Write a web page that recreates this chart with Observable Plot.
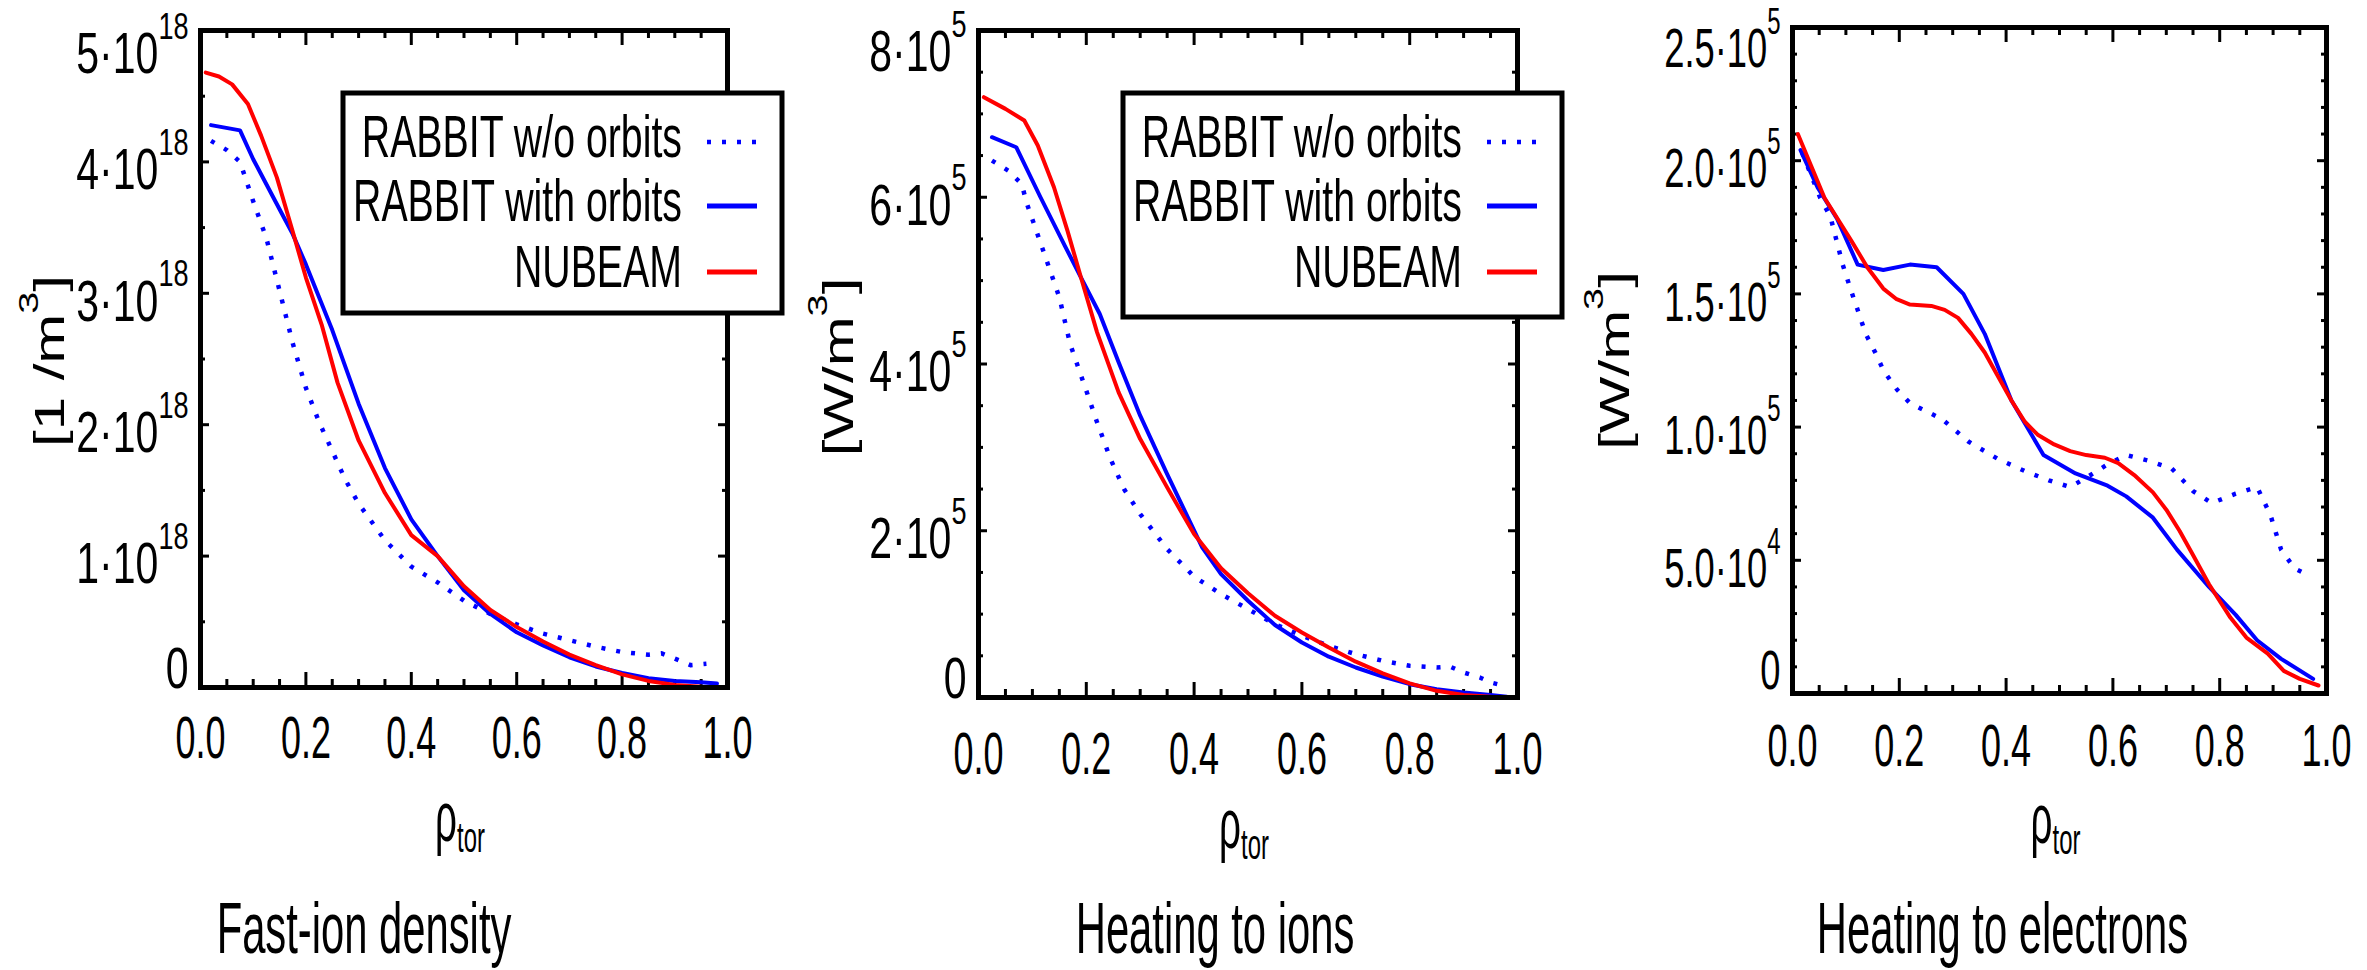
<!DOCTYPE html>
<html><head><meta charset="utf-8">
<script src="https://cdn.jsdelivr.net/npm/d3@7"></script>
<script src="https://cdn.jsdelivr.net/npm/@observablehq/plot@0.6"></script>
<style>
html,body{margin:0;padding:0;background:#fff;}
#fig{position:relative;width:2367px;height:970px;overflow:hidden;background:#fff;}
#fig > svg{position:absolute;top:0;}
</style></head><body><div id="fig"></div>
<script>
const FONT = "'Liberation Sans', Arial, Helvetica, sans-serif";

// ---------- shared axis data ----------
const xTicks = [0, 0.2, 0.4, 0.6, 0.8, 1.0];
const xTickLabels = ["0.0", "0.2", "0.4", "0.6", "0.8", "1.0"];
const xTitle = "ρ_{tor}";
const seriesNames = ["RABBIT w/o orbits", "RABBIT with orbits", "NUBEAM"];
const seriesColors = ["#0000ff", "#0000ff", "#ff0000"];
const seriesDash = ["4,11", null, null];

// ---------- Panel 1: fast-ion density (units of 1e18 m^-3) ----------
const p1Title = "Fast-ion density";
const p1YTitle = "[1 /m^{3}]";
const p1YTicks = [0, 1, 2, 3, 4, 5];
const p1YTickLabels = ["0", "1·10^{18}", "2·10^{18}", "3·10^{18}", "4·10^{18}", "5·10^{18}"];
const p1RhoNoOrb = [0.02,0.05,0.075,0.1,0.125,0.15,0.175,0.2,0.225,0.25,0.275,0.3,0.35,0.4,0.45,0.5,0.55,0.6,0.65,0.7,0.75,0.8,0.85,0.875,0.9,0.93,0.96];
const p1NoOrb    = [4.16,4.09,4.0,3.7,3.42,3.02,2.62,2.28,2.02,1.80,1.58,1.40,1.12,0.92,0.80,0.66,0.56,0.48,0.41,0.36,0.31,0.27,0.25,0.26,0.22,0.17,0.18];
const p1RhoOrb   = [0.02,0.075,0.1,0.125,0.15,0.175,0.2,0.225,0.25,0.3,0.35,0.4,0.45,0.5,0.55,0.6,0.65,0.7,0.75,0.8,0.85,0.9,0.95,0.98];
const p1Orb      = [4.28,4.24,4.02,3.83,3.64,3.45,3.22,2.97,2.72,2.16,1.67,1.28,1.0,0.74,0.56,0.42,0.32,0.23,0.16,0.11,0.07,0.05,0.04,0.03];
const p1RhoNb    = [0.01,0.035,0.06,0.09,0.115,0.145,0.175,0.2,0.23,0.26,0.3,0.35,0.4,0.45,0.5,0.55,0.6,0.65,0.7,0.75,0.8,0.85,0.9,0.95,0.99];
const p1Nb       = [4.68,4.65,4.59,4.44,4.20,3.88,3.47,3.12,2.76,2.32,1.88,1.48,1.16,1.0,0.77,0.59,0.46,0.35,0.25,0.17,0.10,0.05,0.02,0.005,0.0];

// ---------- Panel 2: heating to ions (units of 1e5 W/m^3) ----------
const p2Title = "Heating to ions";
const p2YTitle = "[W/m^{3}]";
const p2YTicks = [0, 2, 4, 6, 8];
const p2YTickLabels = ["0", "2·10^{5}", "4·10^{5}", "6·10^{5}", "8·10^{5}"];
const p2RhoNoOrb = [0.025,0.055,0.08,0.09,0.105,0.12,0.135,0.15,0.16,0.17,0.185,0.2,0.22,0.245,0.27,0.3,0.35,0.4,0.45,0.5,0.55,0.6,0.65,0.7,0.75,0.8,0.85,0.875,0.9,0.93,0.95,0.975];
const p2NoOrb    = [6.44,6.32,6.16,5.92,5.64,5.36,5.08,4.8,4.52,4.24,3.96,3.68,3.3,2.86,2.5,2.2,1.78,1.45,1.24,1.06,0.88,0.74,0.62,0.52,0.44,0.38,0.36,0.37,0.3,0.24,0.18,0.14];
const p2RhoOrb   = [0.025,0.07,0.115,0.16,0.19,0.225,0.26,0.3,0.35,0.415,0.45,0.5,0.55,0.6,0.65,0.7,0.75,0.8,0.85,0.9,0.95,0.98];
const p2Orb      = [6.72,6.6,6.0,5.42,5.04,4.6,4.02,3.38,2.68,1.8,1.48,1.16,0.87,0.66,0.49,0.36,0.25,0.16,0.1,0.06,0.03,0.01];
const p2RhoNb    = [0.01,0.05,0.085,0.11,0.14,0.165,0.19,0.22,0.26,0.3,0.35,0.4,0.45,0.5,0.55,0.6,0.65,0.7,0.75,0.8,0.85,0.9,0.95,0.99];
const p2Nb       = [7.2,7.06,6.92,6.62,6.12,5.6,5.04,4.38,3.66,3.1,2.52,1.96,1.55,1.25,0.98,0.78,0.6,0.43,0.29,0.17,0.08,0.03,0.01,0];

// ---------- Panel 3: heating to electrons (units of 1e5 W/m^3) ----------
const p3Title = "Heating to electrons";
const p3YTitle = "[W/m^{3}]";
const p3YTicks = [0, 0.5, 1.0, 1.5, 2.0, 2.5];
const p3YTickLabels = ["0", "5.0·10^{4}", "1.0·10^{5}", "1.5·10^{5}", "2.0·10^{5}", "2.5·10^{5}"];
const p3RhoNoOrb = [0.018,0.052,0.071,0.094,0.11,0.122,0.137,0.155,0.171,0.196,0.22,0.28,0.33,0.385,0.435,0.48,0.52,0.55,0.59,0.625,0.665,0.71,0.75,0.785,0.83,0.87,0.895,0.915,0.94,0.97];
const p3NoOrb    = [2.03,1.86,1.79,1.61,1.51,1.44,1.35,1.28,1.21,1.14,1.09,1.03,0.945,0.88,0.835,0.80,0.775,0.81,0.86,0.895,0.875,0.845,0.76,0.715,0.75,0.775,0.67,0.54,0.47,0.44];
const p3RhoOrb   = [0.015,0.047,0.084,0.122,0.17,0.22,0.27,0.32,0.36,0.41,0.47,0.53,0.59,0.625,0.675,0.72,0.78,0.83,0.87,0.915,0.975];
const p3Orb      = [2.04,1.9,1.78,1.61,1.59,1.61,1.60,1.50,1.35,1.10,0.895,0.826,0.78,0.74,0.66,0.54,0.40,0.295,0.2,0.13,0.055];
const p3RhoNb    = [0.01,0.035,0.06,0.085,0.11,0.14,0.17,0.195,0.22,0.26,0.285,0.31,0.335,0.36,0.385,0.41,0.435,0.46,0.49,0.52,0.55,0.585,0.61,0.64,0.675,0.7,0.725,0.75,0.78,0.82,0.85,0.89,0.92,0.95,0.985];
const p3Nb       = [2.10,1.98,1.86,1.78,1.70,1.60,1.52,1.48,1.46,1.455,1.44,1.41,1.35,1.28,1.19,1.10,1.02,0.97,0.935,0.91,0.895,0.885,0.865,0.82,0.755,0.69,0.61,0.52,0.41,0.285,0.21,0.15,0.085,0.055,0.03];

// ---------- layout ----------
const panels = [
  {left: 0, width: 780, frame: [200, 727, 30, 687], yMax: 5, yMinorStep: 0.5, yFont: 57,
   yTicks: p1YTicks, yTickLabels: p1YTickLabels, yTitle: p1YTitle, title: p1Title,
   series: [[p1RhoNoOrb, p1NoOrb], [p1RhoOrb, p1Orb], [p1RhoNb, p1Nb]],
   yLabelDy: [-18, 9, 24], xLabelDy: 70, xTitleDy: 153, titleDx: -100, titleDy: 265, yTitleDx: -137, yTitleDy: 2},
  {left: 780, width: 780, frame: [978, 1517, 30, 697], yMax: 8, yMinorStep: 0.5, yFont: 57,
   yTicks: p2YTicks, yTickLabels: p2YTickLabels, yTitle: p2YTitle, title: p2Title,
   series: [[p2RhoNoOrb, p2NoOrb], [p2RhoOrb, p2Orb], [p2RhoNb, p2Nb]],
   yLabelDy: [-18, 9, 22], xLabelDy: 76, xTitleDy: 150, titleDx: -33, titleDy: 255, yTitleDx: -126, yTitleDy: 3},
  {left: 1560, width: 807, frame: [1792, 2326, 27, 693], yMax: 2.5, yMinorStep: 0.1, yFont: 55,
   yTicks: p3YTicks, yTickLabels: p3YTickLabels, yTitle: p3YTitle, title: p3Title,
   series: [[p3RhoNoOrb, p3NoOrb], [p3RhoOrb, p3Orb], [p3RhoNb, p3Nb]],
   yLabelDy: [-22, 9, 22], xLabelDy: 72, xTitleDy: 149, titleDx: -57, titleDy: 259, yTitleDx: -164, yTitleDy: 0}
];
const legends = [{left: 343, top: 93, bottom: 313}, {left: 1123, top: 93, bottom: 317}];

// font-size -> horizontal squeeze factor (reference text is tall and narrow)
const SQUEEZE = {57: 0.72, 55: 0.66, 59: 0.61, 70: 0.55, 60: 0.72, 72: 0.58};
const SVGNS = "http://www.w3.org/2000/svg";

function zip(xs, ys) { return xs.map((x, i) => ({x, y: ys[i]})); }

function richText(t, fs) {
  const s = t.textContent;
  if (!/[\^_]\{/.test(s)) return;
  t.textContent = "";
  const re = /([\^_])\{([^}]*)\}/g;
  let last = 0, m, shift = 0;
  const add = (str, size, dy) => {
    const ts = document.createElementNS(SVGNS, "tspan");
    if (size) ts.setAttribute("font-size", size);
    if (dy) ts.setAttribute("dy", dy);
    ts.textContent = str;
    t.appendChild(ts);
  };
  while ((m = re.exec(s))) {
    if (m.index > last) { add(s.slice(last, m.index), null, -shift); shift = 0; }
    const up = m[1] === "^";
    const d = up ? -0.6 * fs : 0.16 * fs;
    add(m[2], (up ? 0.66 : 0.62) * fs, d);
    shift = d;
    last = re.lastIndex;
  }
  if (last < s.length) add(s.slice(last), null, -shift);
}

function squeeze(t, s) {
  let tr = t.getAttribute("transform") || "";
  let tx = 0, ty = 0;
  const x = t.getAttribute("x"), y = t.getAttribute("y");
  if (x != null && !/em/.test(x)) { tx = +x; t.removeAttribute("x"); }
  if (y != null && !/em/.test(y)) { ty = +y; t.removeAttribute("y"); }
  const m = tr.match(/^\s*translate\(\s*([-\d.e]+)[ ,]+([-\d.e]+)\s*\)(.*)$/);
  if (m) { tx += +m[1]; ty += +m[2]; tr = m[3]; }
  t.setAttribute("transform", `translate(${tx},${ty}) scale(${s},1)${tr}`);
}

function postProcess(svg) {
  svg.querySelectorAll("text").forEach(t => {
    const g = t.closest("[font-size]");
    const fs = g ? parseFloat(g.getAttribute("font-size")) : 10;
    richText(t, fs);
    const s = SQUEEZE[fs];
    if (s) squeeze(t, s);
  });
}

function panel(cfg) {
  const H = 970;
  const [fx0, fx1, fy0, fy1] = cfg.frame;
  const ml = fx0 - cfg.left, mr = cfg.left + cfg.width - fx1, mt = fy0, mb = H - fy1;
  const fw = fx1 - fx0, fh = fy1 - fy0;
  const near = (a, b) => Math.abs(a - b) < 1e-9;
  const yMinor = d3.range(0, cfg.yMax + 1e-9, cfg.yMinorStep).filter(v => !cfg.yTicks.some(t => near(t, v)));
  const xMinor = d3.range(0, 1.0001, 0.05).filter(v => !xTicks.some(t => near(t, v)));
  const yLab = cfg.yTicks.map((v, i) => ({v, label: cfg.yTickLabels[i]}));
  const n = yLab.length;
  const xLab = xTicks.map((v, i) => ({v, label: xTickLabels[i]}));
  const tk = {stroke: "black", strokeWidth: 3};
  const lines = cfg.series.map(([xs, ys], i) => Plot.line(zip(xs, ys), {
    x: "x", y: "y", stroke: seriesColors[i], strokeWidth: i === 0 ? 4.5 : 4,
    strokeDasharray: seriesDash[i] || undefined, strokeLinecap: i === 0 ? "butt" : "round"
  }));
  const yText = (data, dy) => Plot.text(data, {y: "v", text: "label", frameAnchor: "left", textAnchor: "end", dx: -12, dy, fontSize: cfg.yFont});
  const svg = Plot.plot({
    width: cfg.width, height: H,
    marginLeft: ml, marginRight: mr, marginTop: mt, marginBottom: mb,
    x: {domain: [0, 1], axis: null},
    y: {domain: [0, cfg.yMax], axis: null},
    style: {background: "transparent", color: "black", fontFamily: FONT, overflow: "visible"},
    marks: [
      Plot.tickX(xMinor, {x: d => d, insetTop: fh - 8, ...tk}),
      Plot.tickX(xMinor, {x: d => d, insetBottom: fh - 8, ...tk}),
      Plot.tickX(xTicks, {x: d => d, insetTop: fh - 15, ...tk}),
      Plot.tickX(xTicks, {x: d => d, insetBottom: fh - 15, ...tk}),
      Plot.tickY(yMinor, {y: d => d, insetRight: fw - 5, ...tk}),
      Plot.tickY(yMinor, {y: d => d, insetLeft: fw - 5, ...tk}),
      Plot.tickY(cfg.yTicks, {y: d => d, insetRight: fw - 9, ...tk}),
      Plot.tickY(cfg.yTicks, {y: d => d, insetLeft: fw - 9, ...tk}),
      ...lines,
      Plot.frame({stroke: "black", strokeWidth: 5}),
      yText(yLab.slice(0, 1), cfg.yLabelDy[0]),
      yText(yLab.slice(1, n - 1), cfg.yLabelDy[1]),
      yText(yLab.slice(n - 1), cfg.yLabelDy[2]),
      Plot.text(xLab, {x: "v", text: "label", frameAnchor: "bottom", textAnchor: "middle", dy: cfg.xLabelDy, fontSize: 59}),
      Plot.text([xTitle], {text: d => d, frameAnchor: "bottom", textAnchor: "middle", lineAnchor: "bottom", dx: -4, dy: cfg.xTitleDy, fontSize: 70}),
      Plot.text([cfg.yTitle], {text: d => d, frameAnchor: "left", textAnchor: "middle", lineAnchor: "bottom", rotate: -90, dx: cfg.yTitleDx, dy: cfg.yTitleDy, fontSize: 60}),
      Plot.text([cfg.title], {text: d => d, frameAnchor: "bottom", textAnchor: "middle", lineAnchor: "bottom", dx: cfg.titleDx, dy: cfg.titleDy, fontSize: 72})
    ]
  });
  svg.style.left = cfg.left + "px";
  svg.style.position = "absolute";
  svg.style.top = "0px";
  postProcess(svg);
  return svg;
}

const fig = document.getElementById("fig");
panels.forEach(cfg => fig.appendChild(panel(cfg)));

// ---------- legend overlay ----------
const ov = document.createElementNS(SVGNS, "svg");
ov.setAttribute("width", 2367); ov.setAttribute("height", 970);
ov.style.position = "absolute"; ov.style.left = "0px"; ov.style.top = "0px";
ov.style.fontFamily = FONT;
function el(name, attrs, parent) {
  const e = document.createElementNS(SVGNS, name);
  for (const k in attrs) e.setAttribute(k, attrs[k]);
  parent.appendChild(e); return e;
}
legends.forEach(L => {
  el("rect", {x: L.left, y: L.top, width: 439, height: L.bottom - L.top, fill: "white", stroke: "black", "stroke-width": 5}, ov);
  const rowBase = [64, 128, 194];
  seriesNames.forEach((name, i) => {
    const by = L.top + rowBase[i];
    const t = el("text", {"font-size": 60, "text-anchor": "end", fill: "black",
      transform: `translate(${L.left + 339},${by}) scale(0.655,1)`}, ov);
    t.textContent = name;
    const ln = el("line", {x1: L.left + 364, x2: L.left + 414, y1: by - 15, y2: by - 15,
      stroke: seriesColors[i], "stroke-width": i === 0 ? 4.5 : 5}, ov);
    if (seriesDash[i]) ln.setAttribute("stroke-dasharray", seriesDash[i]);
  });
});
fig.appendChild(ov);
</script></body></html>
